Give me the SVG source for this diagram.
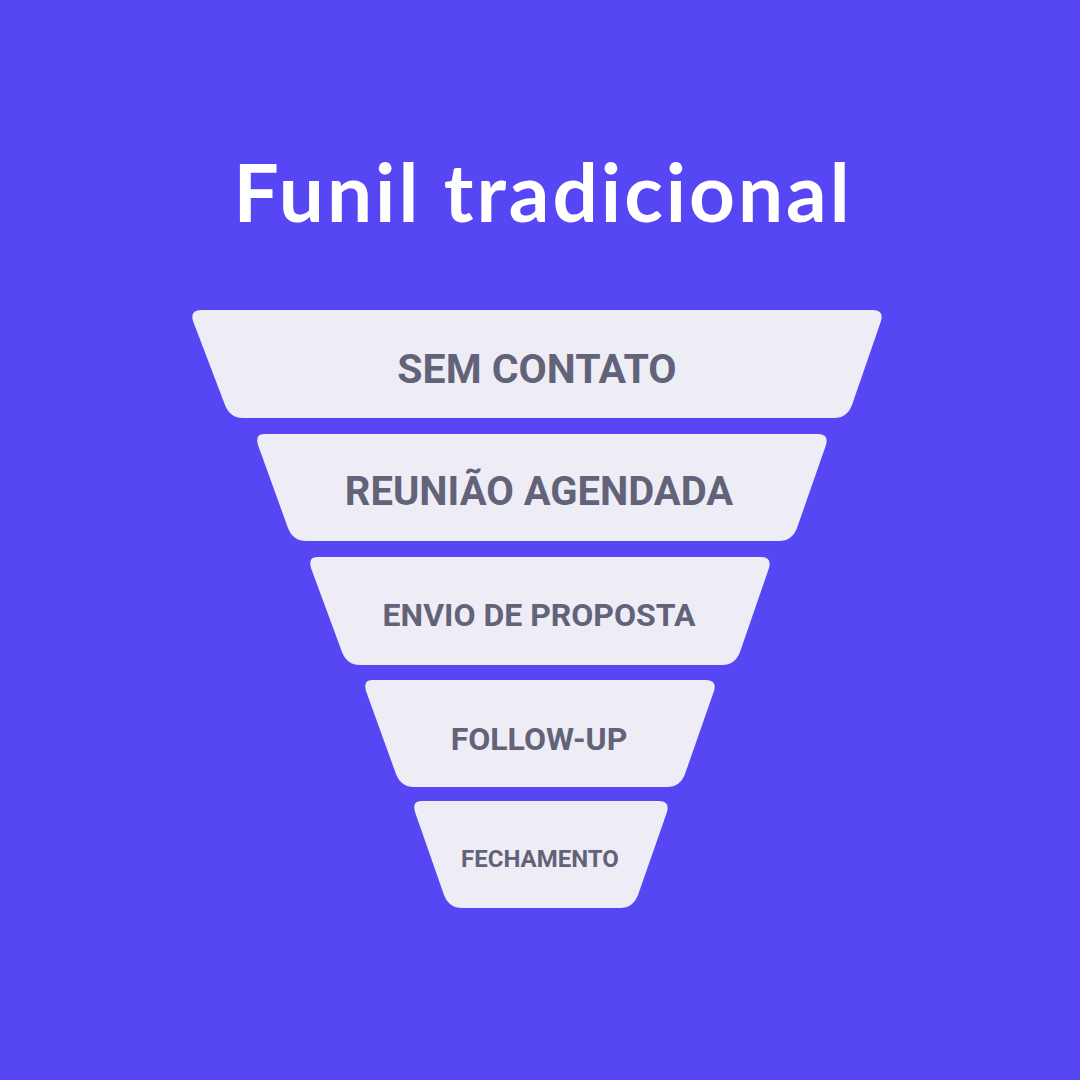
<svg xmlns="http://www.w3.org/2000/svg" width="1080" height="1080" viewBox="0 0 1080 1080">
<style>
.bg{fill:#5746F4}
.st{fill:#EEEDF6}
.lb{font-family:Roboto,"Liberation Sans",sans-serif;font-weight:700;fill:#626379;text-anchor:middle}
.tt{font-family:Lato,"Liberation Sans",sans-serif;font-weight:700;fill:#FFFFFF;text-anchor:middle;letter-spacing:3px}
</style>
<rect class="bg" x="0" y="0" width="1080" height="1080"/>
<text class="tt" x="543" y="222" font-size="80">Funil tradicional</text>
<g id="stage1">
<path class="st" d="M201,310 L873,310 Q884,310 881,321 L852,405 Q847,418 834,418 L243,418 Q230,418 225,405 L193,321 Q190,310 201,310 Z"/>
<text class="lb" x="537" y="383" font-size="41">SEM CONTATO</text>
</g>
<g id="stage2">
<path class="st" d="M264,434 L818,434 Q829,434 826,445 L797,528 Q792,541 779,541 L306,541 Q293,541 288,528 L258,445 Q255,434 264,434 Z"/>
<text class="lb" x="539" y="505" font-size="40">REUNIÃO AGENDADA</text>
</g>
<g id="stage3">
<path class="st" d="M317,557 L761,557 Q772,557 769,568 L740,652 Q735,665 722,665 L360,665 Q347,665 342,652 L311,568 Q308,557 317,557 Z"/>
<text class="lb" x="539" y="626" font-size="32">ENVIO DE PROPOSTA</text>
</g>
<g id="stage4">
<path class="st" d="M372,680 L706,680 Q717,680 714,691 L685,774 Q680,787 667,787 L414,787 Q401,787 396,774 L366,691 Q363,680 372,680 Z"/>
<text class="lb" x="539" y="750" font-size="32">FOLLOW-UP</text>
</g>
<g id="stage5">
<path class="st" d="M421,801 L659,801 Q670,801 667,812 L638,895 Q633,908 620,908 L462,908 Q449,908 444,895 L415,812 Q412,801 421,801 Z"/>
<text class="lb" x="540" y="867" font-size="24">FECHAMENTO</text>
</g>
<g id="connectors"/>
</svg>
